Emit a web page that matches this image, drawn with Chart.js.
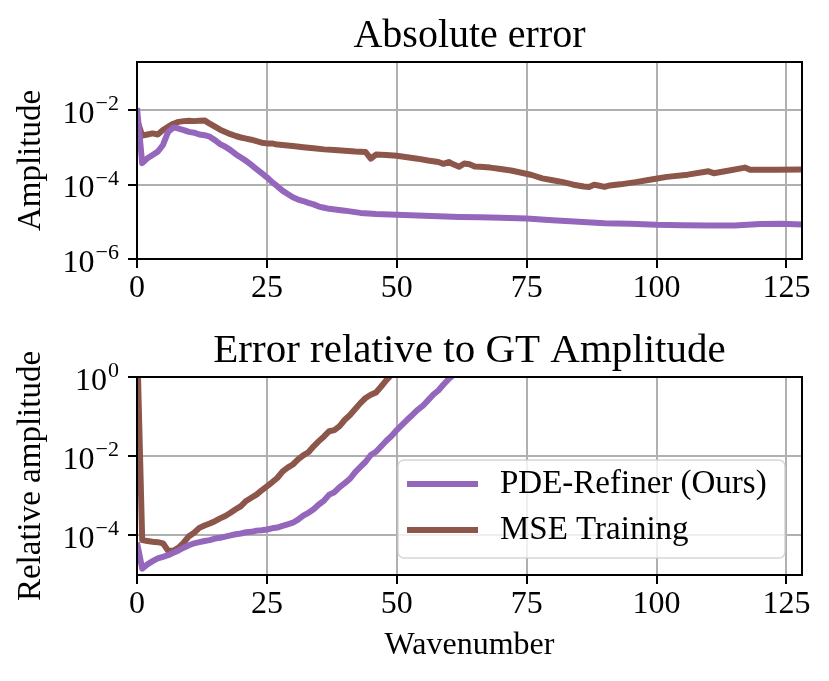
<!DOCTYPE html>
<html>
<head>
<meta charset="utf-8">
<script src="https://cdn.jsdelivr.net/npm/chart.js@4.4.1/dist/chart.umd.min.js"></script>
<style>
    html, body { margin: 0; padding: 0; background: #fff; }
    #wrap { position: relative; width: 829px; height: 681px; }
    canvas { position: absolute; left: 0; }
</style>
</head>
<body>
<div id="wrap">
    <canvas id="absChart" width="829" height="320" style="top:0"></canvas>
    <canvas id="relChart" width="829" height="361" style="top:320px"></canvas>
</div>
<script>
const FONT = "'Liberation Serif', 'DejaVu Serif', serif";
const PURPLE = '#9467bd';
const BROWN = '#8c564b';

const seriesLabels = ['PDE-Refiner (Ours)', 'MSE Training'];
const xTicks = [0, 25, 50, 75, 100, 125];
const absYTicks = [1e-6, 1e-4, 1e-2];
const relYTicks = [1e-4, 1e-2, 1];

// Absolute error, PDE-Refiner
const absPdeK = [0, 1, 2, 3, 4, 5, 6, 7, 8, 9, 10, 11, 12, 13, 14, 15, 16, 17, 18, 19, 20,
    21, 22, 23, 24, 25, 26, 27, 28, 29, 30, 31, 32, 33, 34, 35, 36, 37, 40, 43, 46, 50, 54, 58,
    62, 66, 70, 75, 80, 85, 90, 95, 100, 105, 110, 115, 120, 124, 128];
const absPdeVal = [1.15e-2, 3.8e-4, 5.13e-4, 6.31e-4, 7.76e-4, 1.17e-3, 2.63e-3, 3.47e-3, 3.24e-3,
    2.95e-3, 2.63e-3, 2.51e-3, 2.24e-3, 2.14e-3, 1.95e-3, 1.58e-3, 1.23e-3, 1.05e-3, 8.51e-4,
    6.61e-4, 5.37e-4, 4.37e-4, 3.39e-4, 2.63e-4, 2.04e-4, 1.58e-4, 1.17e-4, 9.12e-5, 6.92e-5,
    5.62e-5, 4.57e-5, 3.98e-5, 3.63e-5, 3.24e-5, 2.95e-5, 2.57e-5, 2.4e-5, 2.24e-5, 2.0e-5,
    1.74e-5, 1.62e-5, 1.55e-5, 1.48e-5, 1.41e-5, 1.35e-5, 1.32e-5, 1.29e-5, 1.23e-5, 1.1e-5,
    1.0e-5, 9.12e-6, 8.91e-6, 8.32e-6, 8.13e-6, 7.94e-6, 7.94e-6, 8.71e-6, 8.91e-6, 8.51e-6];

// Absolute error, MSE training
const absMseK = [0, 1, 2, 3, 4, 5, 6, 7, 8, 9, 10, 11, 12, 13, 14, 15, 16, 17, 18, 19, 20,
    21, 22, 23, 24, 25, 26, 27, 28, 30, 32, 34, 36, 38, 40, 42, 44, 45, 46, 48, 50, 52, 54, 56,
    58, 59, 60, 61, 62, 63, 64, 65, 66, 68, 70, 72, 74, 76, 78, 80, 82, 84, 86, 87, 88, 89, 90,
    91, 93, 96, 99, 102, 106, 110, 111, 114, 117, 118, 123, 128];
const absMseVal = [5.62e-3, 2.09e-3, 2.24e-3, 2.4e-3, 2.24e-3, 2.95e-3, 3.63e-3, 4.37e-3, 4.9e-3,
    5.13e-3, 5.25e-3, 5.13e-3, 5.25e-3, 5.37e-3, 4.37e-3, 3.63e-3, 3.02e-3, 2.63e-3, 2.29e-3,
    2.04e-3, 1.86e-3, 1.74e-3, 1.62e-3, 1.48e-3, 1.35e-3, 1.29e-3, 1.29e-3, 1.2e-3, 1.17e-3,
    1.1e-3, 1.02e-3, 9.55e-4, 8.91e-4, 8.51e-4, 8.13e-4, 7.76e-4, 7.59e-4, 5.01e-4, 6.46e-4,
    6.31e-4, 6.03e-4, 5.5e-4, 5.01e-4, 4.47e-4, 4.07e-4, 3.63e-4, 4.07e-4, 3.47e-4, 3.02e-4,
    3.72e-4, 3.55e-4, 3.09e-4, 3.02e-4, 2.88e-4, 2.63e-4, 2.4e-4, 2.09e-4, 1.82e-4, 1.48e-4,
    1.32e-4, 1.17e-4, 1.0e-4, 8.91e-5, 8.71e-5, 1.0e-4, 9.33e-5, 8.71e-5, 9.55e-5, 1.02e-4,
    1.17e-4, 1.38e-4, 1.62e-4, 1.86e-4, 2.29e-4, 2.04e-4, 2.4e-4, 2.88e-4, 2.51e-4, 2.51e-4, 2.57e-4];

// Error relative to GT amplitude, PDE-Refiner
const relPdeK = [0, 1, 2, 3, 4, 5, 6, 7, 8, 9, 10, 11, 12, 13, 14, 15, 16, 17, 18, 19, 20,
    21, 22, 23, 24, 25, 26, 27, 28, 29, 30, 31, 32, 33, 34, 35, 36, 37, 38, 39, 40, 41, 42, 43,
    44, 45, 46, 47, 48, 49, 50, 51, 52, 53, 54, 55, 56, 57, 58, 59, 60, 61, 62];
const relPdeVal = [6.61e-5, 1.45e-5, 1.86e-5, 2.24e-5, 2.63e-5, 2.88e-5, 3.16e-5, 3.63e-5, 4.17e-5,
    4.9e-5, 5.62e-5, 6.31e-5, 6.76e-5, 7.24e-5, 7.59e-5, 8.32e-5, 8.71e-5, 9.33e-5, 1.0e-4,
    1.07e-4, 1.12e-4, 1.2e-4, 1.23e-4, 1.32e-4, 1.35e-4, 1.41e-4, 1.51e-4, 1.58e-4, 1.74e-4,
    1.91e-4, 2.09e-4, 2.51e-4, 3.16e-4, 3.72e-4, 4.57e-4, 6.03e-4, 7.59e-4, 1.07e-3, 1.23e-3,
    1.66e-3, 2.09e-3, 2.69e-3, 3.98e-3, 5.37e-3, 7.24e-3, 1.07e-2, 1.29e-2, 1.78e-2, 2.45e-2,
    3.24e-2, 4.57e-2, 6.17e-2, 8.32e-2, 0.11, 0.148, 0.186, 0.257, 0.355, 0.457, 0.646, 0.891,
    1.15, 1.58];

// Error relative to GT amplitude, MSE training
const relMseK = [0, 1, 2, 3, 4, 5, 6, 7, 8, 9, 10, 11, 12, 13, 14, 15, 16, 17, 18, 19, 20,
    21, 22, 23, 24, 25, 26, 27, 28, 29, 30, 31, 32, 33, 34, 35, 36, 37, 38, 39, 40, 41, 42, 43,
    44, 45, 46, 47, 48, 49, 50];
const relMseVal = [10, 7.59e-5, 7.24e-5, 6.92e-5, 6.76e-5, 6.31e-5, 4.07e-5, 4.07e-5, 4.9e-5,
    6.61e-5, 9.55e-5, 1.17e-4, 1.55e-4, 1.78e-4, 2.0e-4, 2.29e-4, 2.69e-4, 3.09e-4, 3.72e-4,
    4.57e-4, 5.5e-4, 7.41e-4, 8.91e-4, 1.07e-3, 1.38e-3, 1.74e-3, 2.19e-3, 2.82e-3, 4.07e-3,
    5.13e-3, 6.17e-3, 8.32e-3, 1.05e-2, 1.26e-2, 1.78e-2, 2.4e-2, 3.16e-2, 4.27e-2, 4.57e-2,
    5.75e-2, 8.32e-2, 0.11, 0.155, 0.219, 0.295, 0.355, 0.407, 0.575, 0.832, 1.15, 1.58];

const toPoints = (ks, vals) => ks.map((k, i) => ({ x: k, y: vals[i] }));

// "10" with a raised exponent, right aligned at xRight
const drawPow10 = (ctx, value, xRight, y) => {
    const exp = Math.round(Math.log10(value));
    const expText = exp < 0 ? '\u2212' + Math.abs(exp) : String(exp);
    ctx.textAlign = 'right';
    ctx.textBaseline = 'alphabetic';
    ctx.font = `22px ${FONT}`;
    ctx.fillText(expText, xRight, y);
    const w = ctx.measureText(expText).width;
    ctx.font = `32px ${FONT}`;
    ctx.fillText('10', xRight - w - 1, y + 12.5);
};

const drawLegend = (chart) => {
    const { ctx, chartArea: area } = chart;
    const w = 387, h = 98;
    const x0 = area.right - 17 - w, y0 = area.bottom - 17 - h;
    ctx.beginPath();
    ctx.roundRect(x0, y0, w, h, 6);
    ctx.fillStyle = 'rgba(255,255,255,0.8)';
    ctx.fill();
    ctx.strokeStyle = 'rgba(204,204,204,0.8)';
    ctx.lineWidth = 1.5;
    ctx.stroke();
    chart.data.datasets.forEach((ds, i) => {
        const y = y0 + 24 + i * 46;
        ctx.strokeStyle = ds.borderColor;
        ctx.lineWidth = ds.borderWidth;
        ctx.beginPath();
        ctx.moveTo(x0 + 9, y);
        ctx.lineTo(x0 + 80, y);
        ctx.stroke();
        ctx.fillStyle = '#000';
        ctx.font = `33px ${FONT}`;
        ctx.textAlign = 'left';
        ctx.textBaseline = 'middle';
        ctx.fillText(ds.label, x0 + 102, y);
    });
};

const panelDecor = {
    id: 'panelDecor',
    afterDatasetsDraw(chart, args, opts) {
        const { ctx, chartArea: area, scales } = chart;
        ctx.save();
        ctx.strokeStyle = '#000';
        ctx.lineWidth = 2;
        ctx.strokeRect(area.left, area.top, area.right - area.left, area.bottom - area.top);

        ctx.fillStyle = '#000';
        scales.y.ticks.forEach(t => drawPow10(ctx, t.value, area.left - 18, scales.y.getPixelForValue(t.value)));

        ctx.font = `${opts.titleSize}px ${FONT}`;
        ctx.textAlign = 'center';
        ctx.textBaseline = 'alphabetic';
        ctx.fillText(opts.title, (area.left + area.right) / 2, area.top - 15);

        if (opts.legend) drawLegend(chart);
        ctx.restore();
    }
};

const gridOpts = { color: '#b0b0b0', lineWidth: 2, tickColor: '#000', tickLength: 9, tickWidth: 2 };

const makeChart = (id, cfg) => new Chart(document.getElementById(id), {
    type: 'line',
    data: {
        datasets: [
            { label: seriesLabels[0], data: cfg.pde, borderColor: PURPLE, borderWidth: 6, clip: 0 },
            { label: seriesLabels[1], data: cfg.mse, borderColor: BROWN, borderWidth: 6, clip: 0 }
        ]
    },
    options: {
        responsive: false,
        animation: false,
        layout: { padding: { top: cfg.top, right: 27, left: 0, bottom: 0 } },
        elements: {
            point: { radius: 0 },
            line: { tension: 0, borderJoinStyle: 'round', borderCapStyle: 'butt' }
        },
        plugins: {
            legend: { display: false },
            tooltip: { enabled: false },
            panelDecor: { title: cfg.title, titleSize: cfg.titleSize, legend: cfg.legend }
        },
        scales: {
            x: {
                type: 'linear', min: 0, max: 128,
                afterBuildTicks: s => { s.ticks = xTicks.map(v => ({ value: v })); },
                afterFit: s => { s.height = cfg.xHeight; },
                grid: gridOpts,
                border: { display: false },
                ticks: { color: '#000', font: { family: FONT, size: 32 }, padding: 1, maxRotation: 0, autoSkip: false },
                title: {
                    display: !!cfg.xTitle, text: cfg.xTitle || '', color: '#000',
                    font: { family: FONT, size: 32 }, padding: { bottom: 16 }
                }
            },
            y: {
                type: 'logarithmic', min: cfg.yMin, max: cfg.yMax,
                afterBuildTicks: s => { s.ticks = cfg.yTicks.map(v => ({ value: v })); },
                afterFit: s => { s.width = 137; },
                grid: gridOpts,
                border: { display: false },
                ticks: { display: false },
                title: {
                    display: true, text: cfg.yTitle, color: '#000',
                    font: { family: FONT, size: 33 }, padding: { top: 12 }
                }
            }
        }
    },
    plugins: [panelDecor]
});

makeChart('absChart', {
    pde: toPoints(absPdeK, absPdeVal),
    mse: toPoints(absMseK, absMseVal),
    title: 'Absolute error', titleSize: 40,
    yTitle: 'Amplitude',
    yMin: 1e-6, yMax: 0.2, yTicks: absYTicks,
    top: 62, xHeight: 61, legend: false
});

makeChart('relChart', {
    pde: toPoints(relPdeK, relPdeVal),
    mse: toPoints(relMseK, relMseVal),
    title: 'Error relative to GT Amplitude', titleSize: 41,
    yTitle: 'Relative amplitude',
    xTitle: 'Wavenumber',
    yMin: 1e-5, yMax: 1, yTicks: relYTicks,
    top: 57, xHeight: 106, legend: true
});
</script>
</body>
</html>
